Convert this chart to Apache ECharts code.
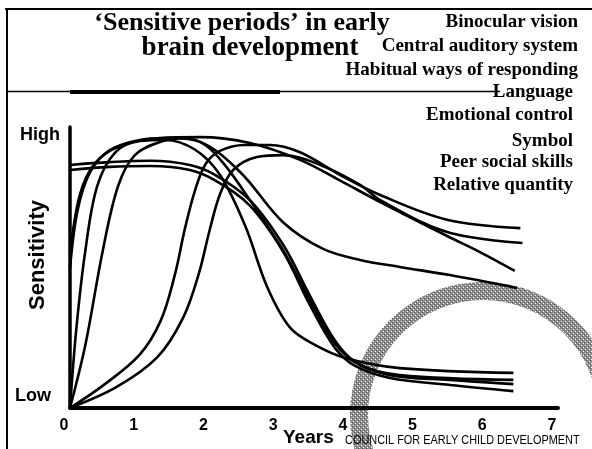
<!DOCTYPE html>
<html>
<head>
<meta charset="utf-8">
<style>
  html, body { margin: 0; padding: 0; background: #fff; }
  #main { width: 592px; height: 449px; }
</style>
<script src="https://cdn.jsdelivr.net/npm/echarts/dist/echarts.min.js"></script>
</head>
<body>
<div id="main"></div>
<script>
// curves: [age in years, sensitivity 0 (low) .. 100 (high)]
var binocularVision = [[0, 0], [0.09, 28], [0.22, 56], [0.39, 79], [0.65, 91], [1.0, 95], [1.36, 95.4], [1.79, 92], [2.15, 83], [2.51, 65], [2.83, 43], [3.16, 28.5], [3.52, 22.4], [3.95, 17.8], [4.73, 14.2], [6.36, 12.5]]
var centralAuditory = [[0, 86.5], [0.57, 87.5], [1.15, 88], [1.72, 86.5], [2.08, 83], [2.58, 74], [3.06, 58], [3.44, 40], [3.8, 24], [4.09, 16.4], [4.59, 11.7], [5.45, 10], [6.36, 8.5]]
var habitualWays = [[0, 49.8], [0.11, 70.5], [0.29, 84], [0.57, 91.8], [1.0, 95.4], [1.43, 96.1], [1.87, 94.7], [2.44, 84], [3.06, 66], [3.63, 56.6], [4.16, 52.7], [4.73, 50.2], [5.45, 47.3], [6.41, 42.7]]
var language = [[0, 84.7], [0.57, 85.8], [1.15, 86.1], [1.72, 84.7], [2.08, 81], [2.58, 72], [3.06, 55.5], [3.44, 36.7], [3.8, 21.4], [4.09, 15], [4.59, 10.7], [5.45, 8.2], [6.36, 6]]
var emotionalControl = [[0, 0], [0.22, 22.4], [0.47, 56], [0.69, 79], [0.93, 90], [1.29, 94.7], [1.65, 96], [1.94, 93.6], [2.22, 86.5], [2.58, 74], [3.06, 56], [3.44, 38.4], [3.8, 23], [4.16, 15.3], [4.73, 11.7], [6.36, 10]]
var symbol = [[0, 54.4], [0.14, 75.8], [0.36, 87.2], [0.72, 93.2], [1.29, 96.1], [1.87, 96.4], [2.58, 94.3], [3.3, 88.3], [3.87, 81], [4.45, 73.3], [5.41, 61.2], [5.88, 55.5], [6.38, 48.8]]
var peerSocial = [[0, 0], [0.5, 8.5], [1.0, 19], [1.3, 31], [1.5, 47], [1.65, 64], [1.8, 78], [1.95, 87], [2.15, 91.5], [2.5, 93.6], [2.87, 93.6], [3.3, 91], [3.87, 83], [4.45, 75.8], [5.41, 67], [6.46, 64]]
var relativeQuantity = [[0, 0], [0.67, 7.5], [1.25, 18], [1.62, 32], [1.85, 48], [2.0, 63], [2.15, 76], [2.34, 84.7], [2.68, 89.3], [3.06, 90], [3.59, 86.5], [4.16, 79.4], [4.45, 74], [5.41, 62.6], [6.49, 58.7]]

var periodNames = ['Binocular vision', 'Central auditory system', 'Habitual ways of responding', 'Language',
  'Emotional control', 'Symbol', 'Peer social skills', 'Relative quantity']
var periodCurves = [binocularVision, centralAuditory, habitualWays, language,
  emotionalControl, symbol, peerSocial, relativeQuantity]
var titleLines = ['\u2018Sensitive periods\u2019 in early', 'brain development']

var chart = echarts.init(document.getElementById('main'))

// grey dotted texture for the ring
var pat = document.createElement('canvas')
pat.width = 4
pat.height = 4
var pc = pat.getContext('2d')
pc.fillStyle = '#8c8c8c'
pc.fillRect(0, 0, 4, 4)
pc.fillStyle = '#ffffff'
pc.fillRect(1, 1, 1, 1)
pc.fillRect(3, 3, 1, 1)
pc.fillStyle = '#555555'
pc.fillRect(0, 2, 1, 1)
pc.fillRect(2, 0, 1, 1)

var serif = "'Liberation Serif', 'Times New Roman', serif"
var sans = "'Liberation Sans', Arial, sans-serif"

// label on the right: right edge x, middle y
var labelRight = [578, 578, 578, 573, 573, 573, 573, 573]
var labelY = [22, 46, 70, 92, 115, 141, 162, 185]

var graphics = [
  { type: 'ring', z: -10, shape: { cx: 483, cy: 415, r: 133, r0: 115 }, style: { fill: { image: pat, repeat: 'repeat' } } },
  { type: 'line', shape: { x1: 5, y1: 9, x2: 592, y2: 9 }, style: { stroke: '#000', lineWidth: 2 } },
  { type: 'line', shape: { x1: 7, y1: 8, x2: 7, y2: 449 }, style: { stroke: '#000', lineWidth: 2 } },
  { type: 'line', shape: { x1: 7, y1: 91.5, x2: 500, y2: 91.5 }, style: { stroke: '#000', lineWidth: 1.5 } },
  { type: 'line', shape: { x1: 70, y1: 92, x2: 280, y2: 92 }, style: { stroke: '#000', lineWidth: 4 } },
  { type: 'text', x: 242, y: 23, style: { text: titleLines[0], font: 'bold 26px ' + serif, fill: '#000', textAlign: 'center', textVerticalAlign: 'middle' } },
  { type: 'text', x: 250, y: 48, style: { text: titleLines[1], font: 'bold 27px ' + serif, fill: '#000', textAlign: 'center', textVerticalAlign: 'middle' } },
  { type: 'text', x: 20, y: 135, style: { text: 'High', font: 'bold 18px ' + sans, fill: '#000', textVerticalAlign: 'middle' } },
  { type: 'text', x: 15, y: 396, style: { text: 'Low', font: 'bold 18px ' + sans, fill: '#000', textVerticalAlign: 'middle' } },
  { type: 'text', x: 38, y: 255, rotation: Math.PI / 2, style: { text: 'Sensitivity', font: 'bold 22px ' + sans, fill: '#000', textAlign: 'center', textVerticalAlign: 'middle' } },
  { type: 'text', x: 283, y: 438, style: { text: 'Years', font: 'bold 19px ' + sans, fill: '#000', textVerticalAlign: 'middle' } },
  // no narrow font installed, so squeeze the regular one
  { type: 'text', x: 345, y: 440, scaleX: 0.84, style: { text: 'COUNCIL FOR EARLY CHILD DEVELOPMENT', font: '13px ' + sans, fill: '#000', textVerticalAlign: 'middle' } }
]
periodNames.forEach(function(name, i) {
  graphics.push({
    type: 'text', x: labelRight[i], y: labelY[i],
    style: { text: name, font: 'bold 19px ' + serif, fill: '#000', textAlign: 'right', textVerticalAlign: 'middle' }
  })
})

chart.setOption({
  animation: false,
  grid: { left: 70, right: 34, top: 127, bottom: 41 },
  xAxis: {
    type: 'value',
    min: 0,
    max: 7,
    interval: 1,
    axisLine: { lineStyle: { color: '#000', width: 4 } },
    axisTick: { show: false },
    splitLine: { show: false },
    axisLabel: { color: '#000', fontSize: 16, fontWeight: 'bold', fontFamily: sans, margin: 10, padding: [0, 12, 0, 0] }
  },
  yAxis: {
    type: 'value',
    min: 0,
    max: 100,
    axisLine: { show: true, lineStyle: { color: '#000', width: 3.5 } },
    axisTick: { show: false },
    axisLabel: { show: false },
    splitLine: { show: false }
  },
  graphic: graphics,
  series: periodCurves.map(function(curve, i) {
    return {
      name: periodNames[i],
      type: 'line',
      data: curve,
      smooth: 0.35,
      showSymbol: false,
      lineStyle: { color: '#000', width: 2.6 }
    }
  })
})
</script>
</body>
</html>
